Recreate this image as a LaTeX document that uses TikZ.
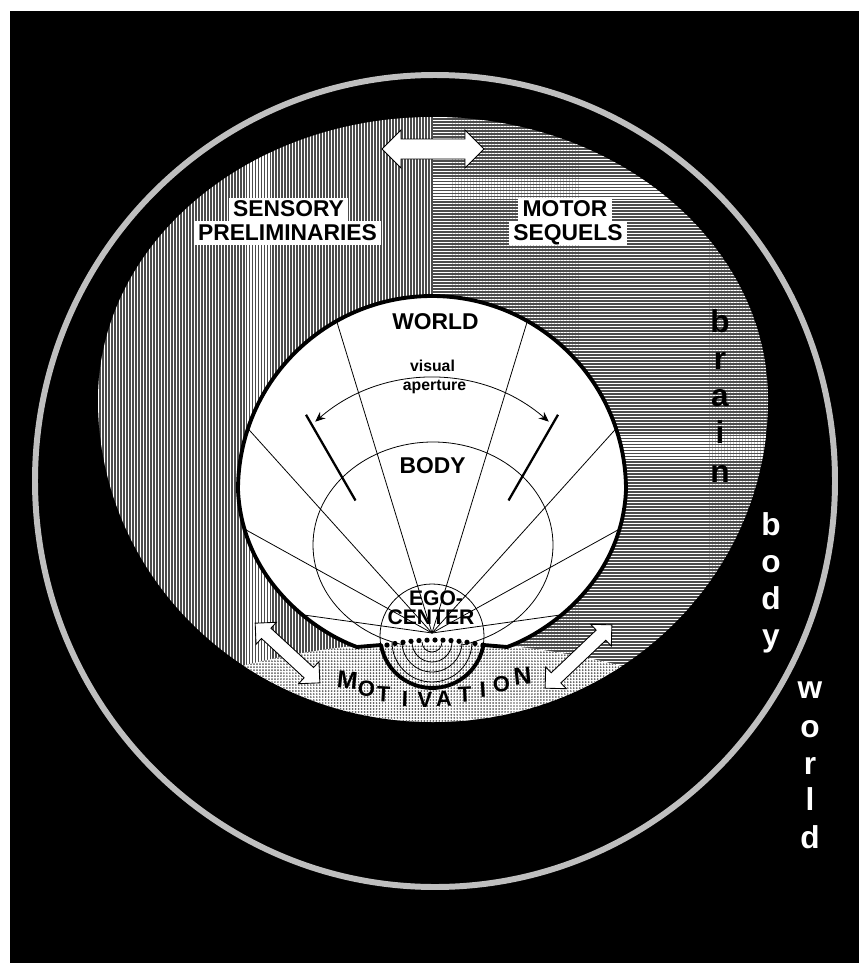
\documentclass[tikz,border=0pt]{standalone}
\usepackage{fontspec}
\setmainfont{Liberation Sans}
\usetikzlibrary{arrows.meta,patterns.meta}
\definecolor{ringgray}{gray}{0.75}
\definecolor{hatchbase}{gray}{0.3}
\definecolor{dotgray}{gray}{0.35}
\tikzset{
  ring/.style={draw=ringgray,line width=3.4pt},
  vhatch/.style={pattern={Lines[angle=90,distance=1.7009pt,line width=0.62pt]},pattern color=white},
  hhatch/.style={pattern={Lines[angle=0,distance=1.7009pt,line width=0.62pt]},pattern color=white},
  stipple/.style={pattern={Dots[distance=1.7009pt,radius=0.55pt]},pattern color=dotgray},
  outline/.style={draw=black,line width=2.2pt,line join=round},
  ray/.style={black,line width=0.45pt},
  thickray/.style={black,line width=1.3pt},
  aperture/.style={black,line width=0.45pt,{Stealth[length=2mm,width=1.7mm]}-{Stealth[length=2mm,width=1.7mm]}},
  labelbox/.style={fill=white,inner xsep=2.5pt,inner ysep=1pt,text height=9.6pt,text depth=2pt,font=\fontsize{13}{13}\selectfont\bfseries},
  inlbl/.style={font=\fontsize{13}{13}\selectfont\bfseries,inner sep=0pt},
  smalllbl/.style={font=\fontsize{9}{9}\selectfont\bfseries,inner sep=0pt},
  egolbl/.style={font=\fontsize{12}{12}\selectfont\bfseries,inner sep=0pt},
  sideltr/.style={font=\fontsize{18}{18}\selectfont\bfseries,inner sep=0pt,anchor=base},
  blockarrow/.style={draw=black,fill=white,line width=0.5pt,line join=miter},
}
% x, y, angle, half length, head half width, shaft half width
\newcommand{\dblarrow}[6]{%
  \draw[blockarrow,shift={(#1,#2)},rotate=#3]
    (-#4,0) -- (-#4+#5,-#5) -- (-#4+#5,-#6) -- (#4-#5,-#6) -- (#4-#5,-#5) -- (#4,0)
    -- (#4-#5,#5) -- (#4-#5,#6) -- (-#4+#5,#6) -- (-#4+#5,#5) -- cycle;
}
\newcommand{\brainshape}{(98,400) arc[start angle=180,end angle=360,x radius=335,y radius=283]
  arc[start angle=0,end angle=180,x radius=335,y radius=322] -- cycle}
\newcommand{\worldtop}{(507,647) .. controls (549,632) and (622,580) .. (626,490)
  arc[start angle=0,end angle=-180,radius=194] .. controls (242,580) and (315,632) .. (357,647)}

\begin{document}
\begin{tikzpicture}[x=0.02cm,y=-0.02cm]
  \useasboundingbox (0,0) rectangle (859,963);
  \fill[white] (0,0) rectangle (859,963);
  \fill[black] (10,11) rectangle (859,963);
  % world ring
  \draw[ring] (435,481) ellipse[x radius=400,y radius=406];
  % brain halves
  \begin{scope}
    \clip (0,0) rectangle (433,963);
    \fill[hatchbase] \brainshape;
    \fill[vhatch] \brainshape;
  \end{scope}
  \begin{scope}
    \clip (433,0) rectangle (859,963);
    \fill[hatchbase] \brainshape;
    \fill[hhatch] \brainshape;
  \end{scope}
  % motivation
  \begin{scope}
    \clip \brainshape;
    \fill[white] (432,1400) circle[radius=758];
    \fill[stipple] (432,1400) circle[radius=758];
  \end{scope}
  % world seen from the ego
  \fill[white] (357,647) -- (381,645) -- (483,645) -- \worldtop -- cycle;
  \coordinate (E) at (432,633);
  \coordinate (vc) at (432,556);
  \begin{scope}
    \clip (357,647) -- (381,645) -- (483,645) -- \worldtop -- cycle;
    \foreach \a in {188,209,228,253,287,312,331,352}
      \draw[ray] (E) -- ++(\a:420);
    \draw[ray] (433,545) ellipse[x radius=120,y radius=103];
    \draw[ray] (432,636) circle[radius=52];
  \end{scope}
  \draw[aperture] (vc) ++(229:178) arc[start angle=229,end angle=311,radius=178];
  \draw[thickray] (E) ++(240:153) -- ++(240:99);
  \draw[thickray] (E) ++(300:153) -- ++(300:99);
  \foreach \r in {10,20,30,40}
    \draw[ray] (432+\r,642) arc[start angle=0,end angle=180,radius=\r];
  \draw[outline] (381,645) arc[start angle=170,end angle=10,radius=52] -- \worldtop -- cycle;
  \foreach \i in {0,...,12}
    \fill ({387+8*\i},{640+0.0022*(8*\i-48)^2}) circle[radius=2.6];
  % labels
  \node[labelbox,anchor=base] (sens1) at (288.5,216.7) {SENSORY};
  \node[labelbox,anchor=base] (sens2) at (287.5,240) {PRELIMINARIES};
  \node[labelbox,anchor=base] (motor1) at (565,216.7) {MOTOR};
  \node[labelbox,anchor=base] (motor2) at (568,240) {SEQUELS};
  \node[inlbl,anchor=base] (worldlbl) at (435.5,329) {WORLD};
  \node[smalllbl,anchor=base] (vis1) at (432.5,371) {visual};
  \node[smalllbl,anchor=base] (vis2) at (434.5,390) {aperture};
  \node[inlbl,anchor=base] (bodylbl) at (432.5,473) {BODY};
  \node[egolbl,anchor=base] (ego1) at (436,605) {EGO-};
  \node[egolbl,anchor=base] (ego2) at (431,624.5) {CENTER};
  \foreach \ch/\x/\y/\sz/\rot [count=\k] in {M/347.5/680/14/-6,O/366.5/688.5/12.5/-5,T/383.5/694.5/12.5/-3,
      I/405/699/12.5/-2,V/425/700/12.5/0,A/444/698.5/12.5/1,T/465/695/12.5/3,I/483/690/12.5/4,O/501.5/684.5/12.5/5,N/522.5/676.5/14/6}
    \node[font=\fontsize{\sz}{\sz}\selectfont\bfseries,rotate=\rot,inner sep=0pt] (motiv\k) at (\x,\y) {\ch};
  \foreach \ch/\y [count=\k] in {b/332,r/369,a/406,i/443,n/482}
    \node[sideltr,black] (brain\k) at (720,\y) {\ch};
  \foreach \ch/\y [count=\k] in {b/535,o/572,d/609,y/646}
    \node[sideltr,white] (body\k) at (771,\y) {\ch};
  \foreach \ch/\y [count=\k] in {w/698,o/737,r/774,l/810,d/848}
    \node[sideltr,white] (world\k) at (810,\y) {\ch};
  % arrows
  \dblarrow{433}{149}{0}{51}{19}{10}
  \dblarrow{287.5}{653}{-42.7}{44}{15}{7}
  \dblarrow{578.5}{656.5}{43.5}{46}{15}{7}
\end{tikzpicture}
\end{document}
